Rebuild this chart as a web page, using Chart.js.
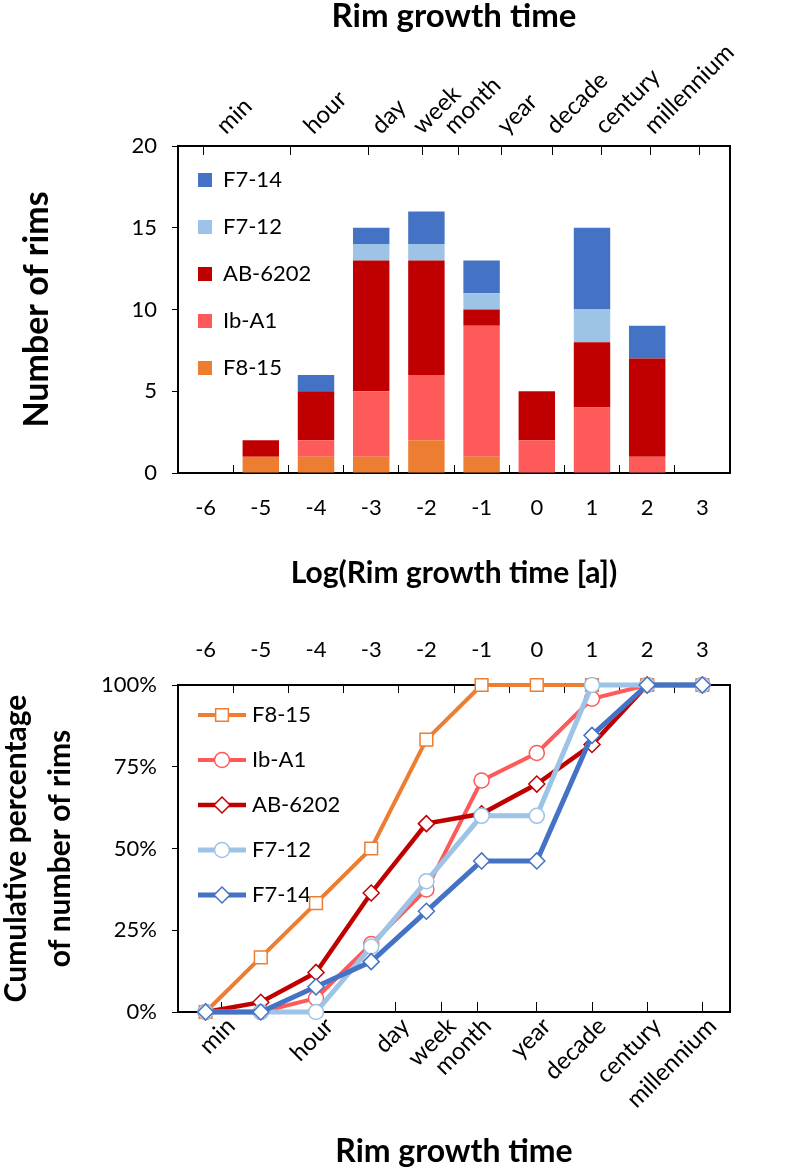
<!DOCTYPE html>
<html>
<head>
<meta charset="utf-8">
<script src="https://cdn.jsdelivr.net/npm/chart.js@4.4.0/dist/chart.umd.min.js"></script>
<style>
  body { margin: 0; background: #fff; }
  #top { position: absolute; left: 0; top: 0; }
  #bottom { position: absolute; left: 0; top: 610px; }
</style>
</head>
<body>
<canvas id="top" width="794" height="610"></canvas>
<canvas id="bottom" width="794" height="563"></canvas>
<script>
// Categorías: log del tiempo de crecimiento (años)
const logLabels = ['-6', '-5', '-4', '-3', '-2', '-1', '0', '1', '2', '3'];

// Eje de tiempo: etiquetas y su posición en log(años)
const timeLabels = ['min', 'hour', 'day', 'week', 'month', 'year', 'decade', 'century', 'millennium'];
const timeTicks = [-5.72, -3.94, -2.56, -1.72, -1.08, 0, 1, 2, 3];

const seriesNames = ['F8-15', 'Ib-A1', 'AB-6202', 'F7-12', 'F7-14'];

// Número de bordes por intervalo
const countF815 = [0, 1, 1, 1, 2, 1, 0, 0, 0, 0];
const countIbA1 = [0, 0, 1, 4, 4, 8, 2, 4, 1, 0];
const countAB6202 = [0, 1, 3, 8, 7, 1, 3, 4, 6, 0];
const countF712 = [0, 0, 0, 1, 1, 1, 0, 2, 0, 0];
const countF714 = [0, 0, 1, 1, 2, 2, 0, 5, 2, 0];

// Porcentaje acumulado
const cumF815 = [0, 16.7, 33.3, 50, 83.3, 100, 100, 100, 100, 100];
const cumIbA1 = [0, 0, 4.2, 20.8, 37.5, 70.8, 79.2, 95.8, 100, 100];
const cumAB6202 = [0, 3, 12.1, 36.4, 57.6, 60.6, 69.7, 81.8, 100, 100];
const cumF712 = [0, 0, 0, 20, 40, 60, 60, 100, 100, 100];
const cumF714 = [0, 0, 7.7, 15.4, 30.8, 46.2, 46.2, 84.6, 100, 100];

// Estilos
const colors = ['#ED7D31', '#FF5A5A', '#C00000', '#9DC3E6', '#4472C4'];
const markers = ['rect', 'circle', 'rectRot', 'circle', 'rectRot'];
const markerSizes = [9, 7.5, 8, 7.5, 8];
const lineWidths = [4, 4, 4.5, 5, 5];

Chart.defaults.font.family = 'Lato';
Chart.defaults.color = '#000';
Chart.defaults.animation = false;

const tickFont = { size: 22 };
const timeFont = { size: 24 };
const axisBorder = { color: '#000', width: 2 };

function bold(size, lineHeight) {
    return { size: size, weight: 'bold', lineHeight: lineHeight || 1 };
}

// Fijar el tamaño de un eje para controlar el área del gráfico
function fixSize(prop, val) {
    return (scale) => {
        scale[prop] = val;
        scale.paddingLeft = 0;
        scale.paddingRight = 0;
        scale.paddingTop = 0;
        scale.paddingBottom = 0;
    };
}

// Colocar la leyenda dentro del área del gráfico
function legendPlacer(dx, dy) {
    return {
        id: 'legendPlacer',
        afterLayout(chart) {
            const lg = chart.legend;
            const ca = chart.chartArea;
            lg.left = ca.left + dx;
            lg.top = ca.top + dy;
            lg.right = lg.left + lg.width;
            lg.bottom = lg.top + lg.height;
        }
    };
}

function timeAxis(position, height, padding, offset, tickLength, title) {
    return {
        type: 'linear', position: position, min: -6.5, max: 3.5,
        afterBuildTicks: (s) => { s.ticks = timeTicks.map(v => ({ value: v })); },
        grid: { drawOnChartArea: false, tickLength: tickLength, color: '#000' },
        border: axisBorder,
        ticks: {
            autoSkip: false, font: timeFont, minRotation: 45, maxRotation: 45,
            padding: padding, labelOffset: offset, callback: (v, i) => timeLabels[i]
        },
        title: title,
        afterFit: fixSize('height', height)
    };
}

const rightBorder = {
    position: 'right', min: 0, max: 1,
    ticks: { display: false },
    grid: { drawOnChartArea: false, drawTicks: false },
    border: axisBorder,
    afterFit: fixSize('width', 64)
};

// ---------- Gráfico de barras ----------
const barSeries = [countF815, countIbA1, countAB6202, countF712, countF714];
new Chart(document.getElementById('top'), {
    type: 'bar',
    data: {
        labels: logLabels,
        datasets: barSeries.map((data, i) => ({
            label: seriesNames[i], data: data, backgroundColor: colors[i], borderWidth: 0,
            categoryPercentage: 1, barPercentage: 0.66, xAxisID: 'x', yAxisID: 'y'
        }))
    },
    options: {
        responsive: false,
        layout: { padding: 0 },
        plugins: {
            legend: {
                position: 'chartArea', align: 'start', reverse: true,
                labels: { boxWidth: 14, boxHeight: 14, padding: 25, font: { size: 22 } }
            },
            tooltip: { enabled: false }
        },
        scales: {
            x: {
                type: 'category', position: 'bottom', stacked: true, offset: true,
                grid: { offset: true, drawOnChartArea: false, tickLength: -8, color: '#000' },
                border: axisBorder,
                ticks: { font: tickFont, padding: 30, maxRotation: 0 },
                title: { display: true, text: 'Log(Rim growth time [a])', font: bold(30), padding: { top: 0, bottom: 22 } },
                afterFit: fixSize('height', 137)
            },
            xt: timeAxis('top', 146, 15, -6, -9,
                { display: true, text: 'Rim growth time', font: bold(33), padding: { top: 0, bottom: 0 } }),
            y: {
                stacked: true, min: 0, max: 20,
                ticks: { stepSize: 5, font: tickFont, padding: 15 },
                grid: { drawOnChartArea: false, tickLength: 6, color: '#000' },
                border: axisBorder,
                title: { display: true, text: 'Number of rims', font: bold(34), padding: { top: 20 } },
                afterFit: fixSize('width', 178)
            },
            yR: rightBorder
        }
    },
    plugins: [legendPlacer(-5, -2)]
});

// ---------- Gráfico de porcentaje acumulado ----------
function legendIcon(i) {
    const c = document.createElement('canvas');
    c.width = 48;
    c.height = 22;
    const ctx = c.getContext('2d');
    ctx.strokeStyle = colors[i];
    ctx.lineWidth = lineWidths[i];
    ctx.beginPath();
    ctx.moveTo(0, 11);
    ctx.lineTo(48, 11);
    ctx.stroke();
    const r = markerSizes[i];
    ctx.fillStyle = '#fff';
    ctx.lineWidth = 1.5;
    ctx.beginPath();
    if (markers[i] === 'circle') {
        ctx.arc(24, 11, r, 0, Math.PI * 2);
    } else if (markers[i] === 'rect') {
        const s = r * Math.SQRT1_2;
        ctx.rect(24 - s, 11 - s, 2 * s, 2 * s);
    } else {
        ctx.moveTo(24 - r, 11);
        ctx.lineTo(24, 11 - r);
        ctx.lineTo(24 + r, 11);
        ctx.lineTo(24, 11 + r);
        ctx.closePath();
    }
    ctx.fill();
    ctx.stroke();
    return c;
}
const icons = seriesNames.map((n, i) => legendIcon(i));

const cumSeries = [cumF815, cumIbA1, cumAB6202, cumF712, cumF714];
new Chart(document.getElementById('bottom'), {
    type: 'line',
    data: {
        labels: logLabels,
        datasets: cumSeries.map((data, i) => ({
            label: seriesNames[i], data: data,
            borderColor: colors[i], borderWidth: lineWidths[i],
            pointStyle: markers[i], pointRadius: markerSizes[i],
            pointBackgroundColor: '#fff', pointBorderColor: colors[i], pointBorderWidth: 1.5,
            tension: 0, clip: false, order: cumSeries.length - 1 - i,
            xAxisID: 'xc', yAxisID: 'y'
        }))
    },
    options: {
        responsive: false,
        layout: { padding: 0 },
        plugins: {
            legend: {
                position: 'chartArea', align: 'start',
                labels: {
                    usePointStyle: true, pointStyleWidth: 38, padding: 23, font: { size: 22 },
                    generateLabels: (chart) => Chart.defaults.plugins.legend.labels.generateLabels(chart)
                        .map(item => Object.assign(item, { pointStyle: icons[item.datasetIndex] })),
                    sort: (a, b) => a.datasetIndex - b.datasetIndex
                }
            },
            tooltip: { enabled: false }
        },
        scales: {
            xc: {
                type: 'category', position: 'top', offset: true,
                grid: { offset: true, drawOnChartArea: false, tickLength: -8, color: '#000' },
                border: axisBorder,
                ticks: { font: tickFont, padding: 30, maxRotation: 0 },
                afterFit: fixSize('height', 75)
            },
            xt: timeAxis('bottom', 161, 10, 10, -10,
                { display: true, text: 'Rim growth time', font: bold(32), padding: { top: 0, bottom: 5 } }),
            y: {
                min: 0, max: 100,
                ticks: { stepSize: 25, font: tickFont, padding: 15, callback: (v) => v + '%' },
                grid: { drawOnChartArea: false, tickLength: 6, color: '#000' },
                border: axisBorder,
                title: {
                    display: true, text: ['Cumulative percentage', 'of number of rims'],
                    font: bold(30, 1.45), padding: { top: -5 }
                },
                afterFit: fixSize('width', 178)
            },
            yR: rightBorder
        }
    },
    plugins: [legendPlacer(2, -4)]
});
</script>
</body>
</html>
